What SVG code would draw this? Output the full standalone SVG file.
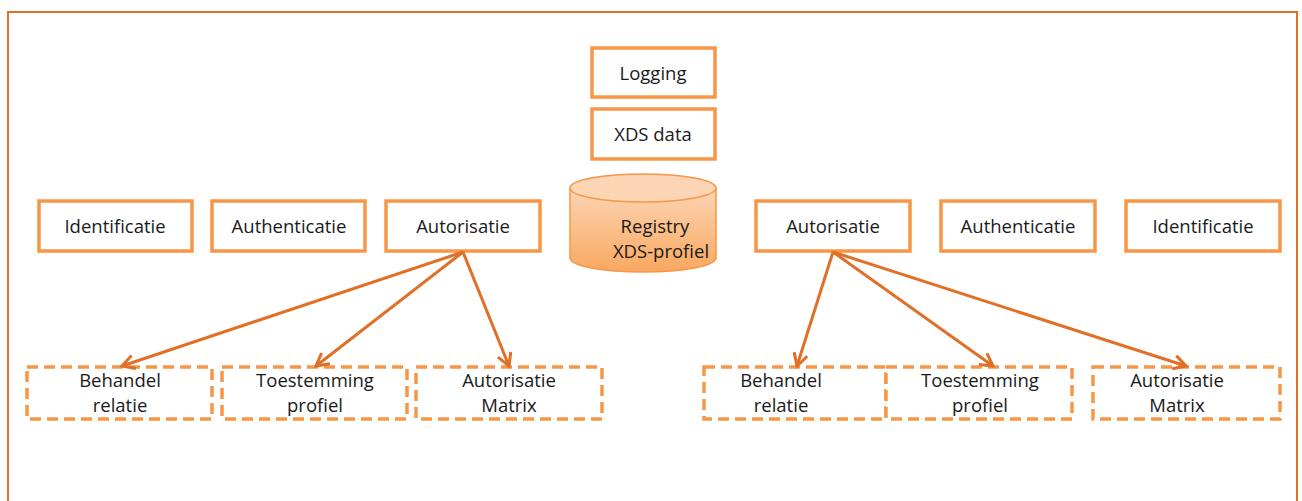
<svg xmlns="http://www.w3.org/2000/svg" width="1302" height="501" viewBox="0 0 1302 501">
<defs>
<style>
.box{fill:#fff;stroke:#F79646;stroke-width:3.5}
.dbox{fill:#fff;stroke:#F79646;stroke-width:3.5;stroke-dasharray:11 6}
.t{font-family:"Open Sans","Liberation Sans",sans-serif;font-size:18.5px;fill:#1a1a1a;text-anchor:middle}
.conn{stroke:#E07028;stroke-width:3;fill:none}
</style>
<linearGradient id="cyl" x1="0" y1="0" x2="0" y2="1">
<stop offset="0" stop-color="#FCD5B4"/>
<stop offset="1" stop-color="#F9A860"/>
</linearGradient>
<marker id="ah" viewBox="0 0 12 12" refX="10" refY="6" markerWidth="5.5" markerHeight="5.5" orient="auto" markerUnits="strokeWidth">
<path d="M1,1 L10,6 L1,11" fill="none" stroke="#E07028" stroke-width="2.2"/>
</marker>
</defs>
<rect x="0" y="0" width="1302" height="501" fill="#fff"/>
<path d="M8,501 V12 H1297 V501" fill="none" stroke="#E07028" stroke-width="2"/>

<g id="logging"><rect class="box" x="592" y="48" width="123" height="49"/><text class="t" x="653" y="80">Logging</text></g>
<g id="xdsdata"><rect class="box" x="592" y="109" width="123" height="50"/><text class="t" x="653" y="141">XDS data</text></g>
<g id="registry">
<path d="M570,188 V258 A73,14 0 0 0 716,258 V188" fill="url(#cyl)" stroke="#F79646" stroke-width="1.5"/>
<ellipse cx="643" cy="188" rx="73" ry="14" fill="#FCD5B4" stroke="#F79646" stroke-width="1.5"/>
<text class="t" x="655" y="233">Registry</text>
<text class="t" x="661" y="258">XDS-profiel</text>
</g>

<g id="ident-l"><rect class="box" x="39" y="201" width="153" height="50"/><text class="t" x="115" y="233">Identificatie</text></g>
<g id="authn-l"><rect class="box" x="212" y="201" width="153" height="50"/><text class="t" x="289" y="233">Authenticatie</text></g>
<g id="autor-l"><rect class="box" x="386" y="201" width="154" height="50"/><text class="t" x="463" y="233">Autorisatie</text></g>
<g id="autor-r"><rect class="box" x="756" y="201" width="154" height="50"/><text class="t" x="833" y="233">Autorisatie</text></g>
<g id="authn-r"><rect class="box" x="941" y="201" width="154" height="50"/><text class="t" x="1018" y="233">Authenticatie</text></g>
<g id="ident-r"><rect class="box" x="1126" y="201" width="154" height="50"/><text class="t" x="1203" y="233">Identificatie</text></g>

<g id="behandel-l"><rect class="dbox" x="27" y="367" width="185" height="52"/><text class="t" x="120" y="387">Behandel</text><text class="t" x="120" y="412">relatie</text></g>
<g id="toestemming-l"><rect class="dbox" x="222" y="367" width="185" height="52"/><text class="t" x="315" y="387">Toestemming</text><text class="t" x="315" y="412">profiel</text></g>
<g id="matrix-l"><rect class="dbox" x="416" y="367" width="186" height="52"/><text class="t" x="509" y="387">Autorisatie</text><text class="t" x="509" y="412">Matrix</text></g>
<g id="behandel-r"><rect class="dbox" x="704" y="367" width="182" height="52"/><text class="t" x="781" y="387">Behandel</text><text class="t" x="781" y="412">relatie</text></g>
<g id="toestemming-r"><rect class="dbox" x="886" y="367" width="186" height="52"/><text class="t" x="980" y="387">Toestemming</text><text class="t" x="980" y="412">profiel</text></g>
<g id="matrix-r"><rect class="dbox" x="1093" y="367" width="187" height="52"/><text class="t" x="1177" y="387">Autorisatie</text><text class="t" x="1177" y="412">Matrix</text></g>

<g id="connectors">
<line class="conn" x1="463" y1="252" x2="122" y2="366" marker-end="url(#ah)"/>
<line class="conn" x1="463" y1="252" x2="316" y2="366" marker-end="url(#ah)"/>
<line class="conn" x1="463" y1="252" x2="509" y2="366" marker-end="url(#ah)"/>
<line class="conn" x1="833" y1="252" x2="797" y2="366" marker-end="url(#ah)"/>
<line class="conn" x1="833" y1="252" x2="993" y2="366" marker-end="url(#ah)"/>
<line class="conn" x1="833" y1="252" x2="1186" y2="366" marker-end="url(#ah)"/>
</g>
</svg>
